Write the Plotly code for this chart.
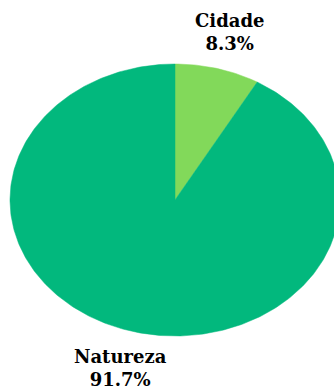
import numpy as np
import plotly.graph_objects as go

labels = ["Cidade", "Natureza"]
values = [8.3, 91.7]
colors = ["#82D95A", "#02B87D"]

fig = go.Figure()
total = sum(values)
start = 0.0
label_r = 1.28
annotations = []
for lab, val, col in zip(labels, values, colors):
    frac = val / total
    a0 = start * 2 * np.pi
    a1 = (start + frac) * 2 * np.pi
    t = np.linspace(a0, a1, max(int(frac * 400), 20))
    xs = np.concatenate([[0.0], np.sin(t), [0.0]])
    ys = np.concatenate([[0.0], np.cos(t), [0.0]])
    fig.add_trace(go.Scatter(x=xs, y=ys, mode="lines", fill="toself",
                             fillcolor=col, line=dict(width=0.5, color=col),
                             hoverinfo="text", text=f"{lab}: {val}%",
                             showlegend=False))
    mid = (a0 + a1) / 2
    annotations.append(dict(
        x=label_r * np.sin(mid), y=label_r * np.cos(mid),
        xref="x", yref="y", showarrow=False,
        text=f"{lab}<br>{val}%",
        font=dict(family="DejaVu Serif", size=18, color="black", weight="bold"),
        xanchor="center", yanchor="middle"))
    start += frac

fig.update_layout(
    width=334, height=391,
    margin=dict(l=0, r=0, t=0, b=0),
    paper_bgcolor="white", plot_bgcolor="white",
    xaxis=dict(range=[-175 / 165, 159 / 165], visible=False, fixedrange=True),
    yaxis=dict(range=[-191 / 136, 200 / 136], visible=False, fixedrange=True),
    annotations=annotations,
)
fig.write_html("out.html")
